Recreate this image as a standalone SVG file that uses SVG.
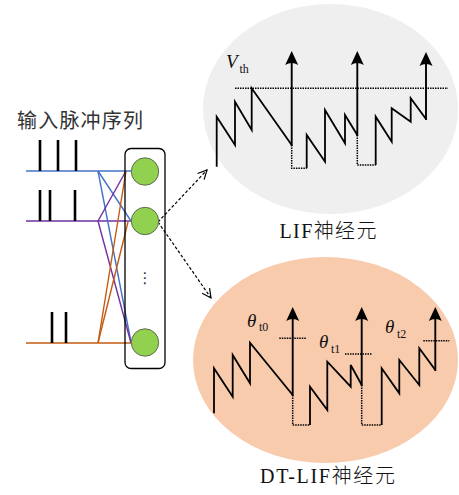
<svg xmlns="http://www.w3.org/2000/svg" width="459" height="495" viewBox="0 0 459 495">
<defs>
<style>
.cn{font-family:"Noto Sans CJK SC","Noto Sans",sans-serif;fill:#333}
.sf{font-family:"Liberation Serif","Noto Sans CJK SC",serif;fill:#111;font-weight:300}
.it{font-family:"Liberation Serif","DejaVu Serif",serif;font-style:italic;fill:#111}
.sub{font-family:"Liberation Serif","DejaVu Serif",serif;fill:#111;font-size:12px}
.wave{fill:none;stroke:#000;stroke-width:1.8;stroke-linejoin:miter}
.spk{stroke:#000;stroke-width:1.9;marker-end:url(#ah)}
.dot{fill:none;stroke:#000;stroke-width:1.5;stroke-dasharray:1.5 1}
.bar{stroke:#000;stroke-width:2.6}
.blue{stroke:#4472C4;stroke-width:1.4;fill:none}
.purp{stroke:#7030A0;stroke-width:1.4;fill:none}
.orng{stroke:#C55A11;stroke-width:1.4;fill:none}
.cell{fill:#92D050;stroke:#5E6E50;stroke-width:1}
.dash{stroke:#000;stroke-width:1.2;stroke-dasharray:3 2;fill:none;marker-end:url(#oh)}
</style>
<marker id="ah" markerUnits="userSpaceOnUse" viewBox="-4 -8 16 16" refX="0" refY="0" markerWidth="16" markerHeight="16" orient="auto">
<path d="M11,0 L-3,-6.5 Q1,0 -3,6.5 Z" fill="#000"/>
</marker>
<marker id="oh" markerUnits="userSpaceOnUse" viewBox="-10 -6 12 12" refX="0" refY="0" markerWidth="12" markerHeight="12" orient="auto">
<path d="M-9,-4.5 L0,0 L-9,4.5" fill="none" stroke="#000" stroke-width="1.2"/>
</marker>
</defs>
<rect width="459" height="495" fill="#fff"/>

<g id="input-label">
<text class="cn" x="17" y="128" font-size="20" textLength="126">输入脉冲序列</text>
</g>

<g id="spike-trains">
<line class="blue" x1="26" y1="171" x2="131" y2="171"/>
<line class="purp" x1="26" y1="221" x2="131" y2="221"/>
<line class="orng" x1="26" y1="343" x2="131" y2="343"/>
<line class="bar" x1="40" y1="140" x2="40" y2="171"/>
<line class="bar" x1="58" y1="140" x2="58" y2="171"/>
<line class="bar" x1="76" y1="140" x2="76" y2="171"/>
<line class="bar" x1="40" y1="190" x2="40" y2="221"/>
<line class="bar" x1="50" y1="190" x2="50" y2="221"/>
<line class="bar" x1="75" y1="190" x2="75" y2="221"/>
<line class="bar" x1="52" y1="312" x2="52" y2="343"/>
<line class="bar" x1="66" y1="312" x2="66" y2="343"/>
</g>

<g id="connectors">
<line class="blue" x1="98" y1="171" x2="131" y2="221"/>
<line class="blue" x1="98" y1="171" x2="131" y2="342"/>
<line class="purp" x1="98" y1="221" x2="126" y2="171"/>
<line class="purp" x1="98" y1="221" x2="131" y2="343"/>
<line class="orng" x1="98" y1="343" x2="126" y2="171"/>
<line class="orng" x1="98" y1="343" x2="128" y2="222"/>
<line class="dash" x1="158" y1="222" x2="207" y2="170"/>
<line class="dash" x1="158" y1="222" x2="211" y2="298"/>
</g>

<g id="neuron-layer">
<rect x="125" y="148.5" width="40" height="220" rx="6" fill="none" stroke="#000" stroke-width="1.3"/>
<circle class="cell" cx="145" cy="171.5" r="13.7"/>
<circle class="cell" cx="145" cy="221" r="13.7"/>
<circle class="cell" cx="145" cy="342.5" r="13.7"/>
<text x="145" y="283" font-family="DejaVu Sans,sans-serif" font-size="15" text-anchor="middle" fill="#333">⋮</text>
</g>

<g id="lif-neuron">
<ellipse cx="330.5" cy="109" rx="127.5" ry="105" fill="#EFEFEF"/>
<line class="dot" x1="235" y1="88.3" x2="448" y2="88.3"/>
<polyline class="wave" points="216.7,166.7 216.7,116.7 235,145 235,101.7 251.7,130 251.7,88.3 291.7,145"/>
<polyline class="wave" points="306.7,168.3 306.7,135 325,161.7 325,110 345,143.3 345,115 357.3,135"/>
<polyline class="wave" points="375.7,165 375.7,116.7 391.7,141.7 391.7,108.3 410.7,121.7 410.7,98.3 426,119"/>
<polyline class="dot" points="291.7,145 291.7,168.3 306.7,168.3"/>
<polyline class="dot" points="357.3,135 357.3,165 375.7,165"/>
<line class="spk" x1="291.7" y1="146" x2="291.7" y2="62"/>
<line class="spk" x1="357.3" y1="136" x2="357.3" y2="62"/>
<line class="spk" x1="426" y1="120" x2="426" y2="63"/>
<text class="it" x="226" y="68" font-size="19">V</text>
<text class="sub" x="239.5" y="73">th</text>
<text class="sf" x="279.5" y="238.3" font-size="20" textLength="97">LIF神经元</text>
</g>

<g id="dtlif-neuron">
<ellipse cx="325.5" cy="360" rx="132.5" ry="103" fill="#F8CBAD"/>
<line class="dot" x1="279.3" y1="338.3" x2="306.7" y2="338.3"/>
<line class="dot" x1="345" y1="354" x2="371.7" y2="354"/>
<line class="dot" x1="423.3" y1="340.7" x2="449.3" y2="340.7"/>
<polyline class="wave" points="214,413.3 214,368.3 232.7,396.7 232.7,355 250,383.3 250,342.7 292.7,395"/>
<polyline class="wave" points="310,425 310,386.7 327.3,410 327.3,361.7 350.7,386.7 350.7,365 361.7,385"/>
<polyline class="wave" points="381.7,425 381.7,368.3 399.3,393.3 399.3,360 419.3,385 419.3,348.3 435.3,370"/>
<polyline class="dot" points="292.7,395 292.7,425 310,425"/>
<polyline class="dot" points="361.7,385 361.7,425 381.7,425"/>
<line class="spk" x1="292.7" y1="396" x2="292.7" y2="318"/>
<line class="spk" x1="361.7" y1="386" x2="361.7" y2="318"/>
<line class="spk" x1="435.3" y1="371" x2="435.3" y2="318"/>
<text class="it" x="247" y="327" font-size="19">θ</text>
<text class="sub" x="259" y="331">t0</text>
<text class="it" x="319" y="348" font-size="19">θ</text>
<text class="sub" x="331" y="353">t1</text>
<text class="it" x="385" y="333" font-size="19">θ</text>
<text class="sub" x="397" y="338">t2</text>
<text class="sf" x="260" y="483.3" font-size="20" textLength="135">DT-LIF神经元</text>
</g>
</svg>
